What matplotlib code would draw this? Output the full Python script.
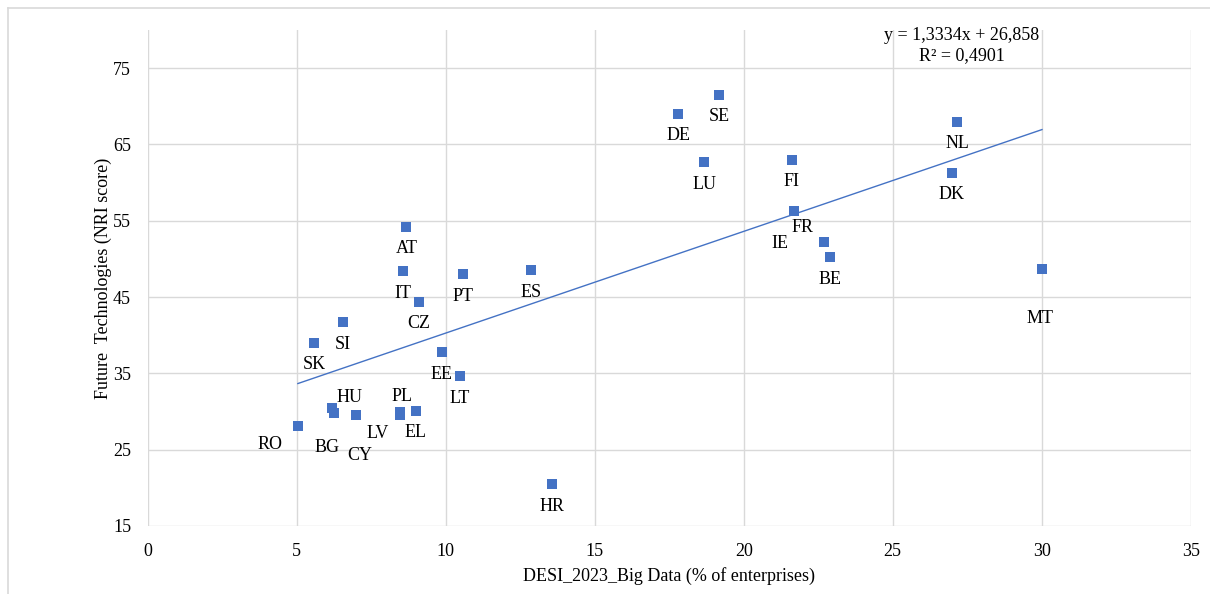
import numpy as np
import matplotlib
matplotlib.use("Agg")
import matplotlib.pyplot as plt
from matplotlib.lines import Line2D

# データ (DESI Big Data %, NRI Future Technologies score)
countries = ["RO", "HU", "BG", "CY", "PL", "LV", "EL", "SK", "SI", "EE",
             "LT", "CZ", "AT", "IT", "PT", "ES", "HR", "DE", "SE", "LU",
             "FI", "FR", "IE", "BE", "NL", "DK", "MT"]
big_data = [5.04, 6.18, 6.25, 6.98, 8.47, 8.47, 8.99, 5.58, 6.55, 9.87,
            10.48, 9.09, 8.68, 8.58, 10.59, 12.87, 13.57, 17.8, 19.18, 18.67,
            21.61, 21.69, 22.7, 22.9, 27.16, 26.99, 30.01]
nri_score = [28.1, 30.5, 29.8, 29.5, 30.0, 29.5, 30.1, 39.0, 41.7, 37.8,
             34.6, 44.4, 54.2, 48.4, 48.0, 48.5, 20.5, 69.0, 71.5, 62.65,
             63.0, 56.3, 52.2, 50.2, 68.0, 61.3, 48.7]
x_ticks = [0, 5, 10, 15, 20, 25, 30, 35]
y_ticks = [15, 25, 35, 45, 55, 65, 75]
equation_text = "y = 1,3334x + 26,858"
r2_text = "R² = 0,4901"

# ラベルのずらし量 (pixel)
label_offset = {"RO": (-28, -18), "BG": (-7, -34), "HU": (18, 10), "CY": (4, -40),
                "LV": (-22, -18), "PL": (2, 15), "FR": (8, -17), "IE": (-44, -1),
                "MT": (-2, -50)}

plt.rcParams['font.family'] = ['Liberation Serif', 'DejaVu Serif']
blue = "#4472C4"
grid = "#D9D9D9"

fig = plt.figure(figsize=(12.1, 5.94), dpi=100)
ax = fig.add_axes([147.7 / 1210, 1 - 526 / 594, (1190.7 - 147.7) / 1210, (526 - 30) / 594])

ax.scatter(big_data, nri_score, marker="s", s=42, color=blue, zorder=3, linewidths=0)

# 近似直線
coef = np.polyfit(big_data, nri_score, 1)
xs = np.array([min(big_data), max(big_data)])
ax.plot(xs, np.polyval(coef, xs), color=blue, lw=1.0, zorder=2)

for name, xv, yv in zip(countries, big_data, nri_score):
    dx, dy = label_offset.get(name, (0, -22))
    ax.annotate(name, (xv, yv), xytext=(dx, dy), textcoords="offset pixels",
                ha="center", va="center", fontsize=13, color="#000000")

ax.set_xlim(0, 35)
ax.set_ylim(15, 80)
ax.set_xticks(x_ticks)
ax.set_yticks(y_ticks)
ax.tick_params(length=0, labelsize=13, pad=12)
ax.grid(True, color=grid, lw=1.0)
ax.set_axisbelow(True)
for s in ax.spines.values():
    s.set_visible(False)

ax.set_xlabel("DESI_2023_Big Data (% of enterprises)", fontsize=13, labelpad=5)
ax.set_ylabel("Future  Technologies (NRI score)", fontsize=13, labelpad=1)

fig.text(962 / 1210, 1 - 35 / 594, equation_text, ha="center", va="center", fontsize=13)
fig.text(962 / 1210, 1 - 56 / 594, r2_text, ha="center", va="center", fontsize=13)

# 外枠
fig.add_artist(Line2D([8 / 1210, 1], [1 - 8 / 594, 1 - 8 / 594], color=grid, lw=1.2,
                      transform=fig.transFigure))
fig.add_artist(Line2D([8 / 1210, 8 / 1210], [0, 1 - 8 / 594], color=grid, lw=1.2,
                      transform=fig.transFigure))

fig.savefig("out.png", dpi=100)
